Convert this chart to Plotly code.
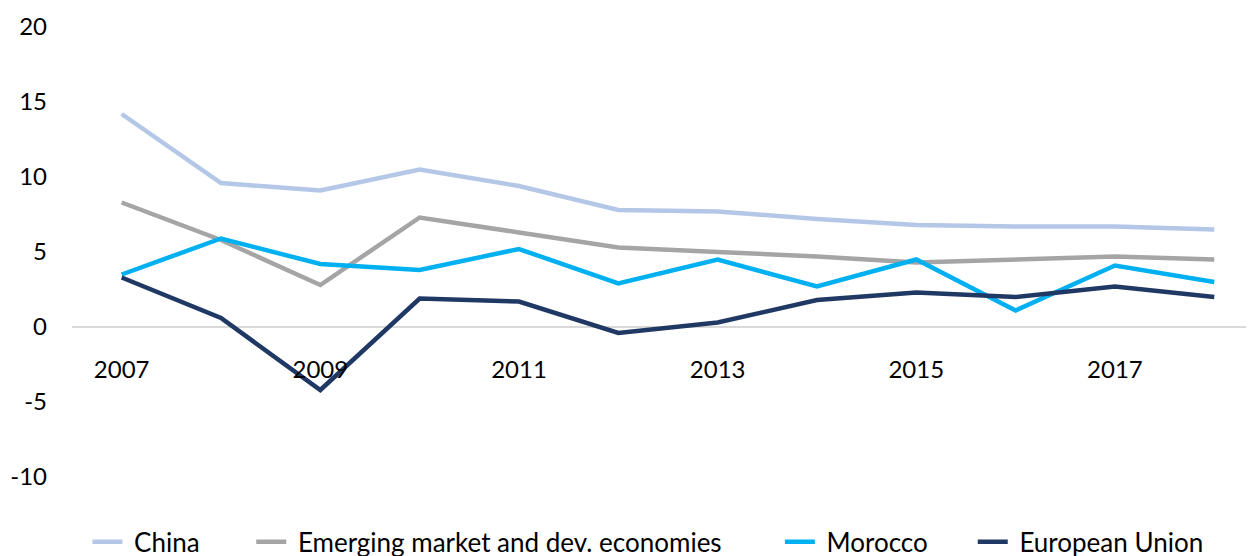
import plotly.graph_objects as go

years = list(range(2007, 2019))
china = [14.2, 9.6, 9.1, 10.5, 9.4, 7.8, 7.7, 7.2, 6.8, 6.7, 6.7, 6.5]
emde = [8.3, 5.8, 2.8, 7.3, 6.3, 5.3, 5.0, 4.7, 4.3, 4.5, 4.7, 4.5]
morocco = [3.5, 5.9, 4.2, 3.8, 5.2, 2.9, 4.5, 2.7, 4.5, 1.1, 4.1, 3.0]
eu = [3.3, 0.6, -4.2, 1.9, 1.7, -0.4, 0.3, 1.8, 2.3, 2.0, 2.7, 2.0]

y_ticks = [-10, -5, 0, 5, 10, 15, 20]
y_labels = ["-10", "-5", "0", "5", "10", "15", "20"]
x_ticks = [2007, 2009, 2011, 2013, 2015, 2017]

NB = "\u00a0"
series = [
    (NB + "China" + NB * 7, china, "#B4C7E7"),
    (NB + "Emerging market and dev. economies" + NB * 8, emde, "#A5A5A5"),
    (NB + "Morocco" + NB * 6, morocco, "#00B0F0"),
    (NB + "European Union", eu, "#203864"),
]

fig = go.Figure()
for name, vals, col in series:
    fig.add_trace(go.Scatter(x=years, y=vals, mode="lines", name=name,
                             line=dict(color=col, width=4.5)))

font = dict(family="Lato, Carlito, sans-serif", size=24, color="#000000")
lfont = dict(family="Lato, Carlito, sans-serif", size=26, color="#000000")
# the page body has an 8px default margin, so the figure is 8px smaller
fig.update_layout(
    width=1246, height=548,
    margin=dict(l=64, r=0, t=19, b=79, autoexpand=False),
    paper_bgcolor="white", plot_bgcolor="white",
    font=font,
    showlegend=True,
    legend=dict(orientation="h", xref="container", yref="container",
                x=0.5136, y=0.026, xanchor="center", yanchor="middle",
                font=lfont, bgcolor="rgba(0,0,0,0)"),
    xaxis=dict(range=[2006.5, 2018.4], tickmode="array",
               tickvals=x_ticks, ticktext=[str(v) for v in x_ticks],
               showgrid=False, zeroline=False, showline=False,
               anchor="free", position=1/3, ticks="",
               ticklabelstandoff=26, tickfont=font, automargin=False),
    yaxis=dict(range=[-10, 20], tickmode="array", tickvals=y_ticks,
               ticktext=y_labels,
               showgrid=False, zeroline=True, zerolinecolor="#D9D9D9",
               zerolinewidth=1.5, showline=False, ticks="",
               ticklabelstandoff=24, tickfont=font, automargin=False),
)
fig.write_html("out.html")
